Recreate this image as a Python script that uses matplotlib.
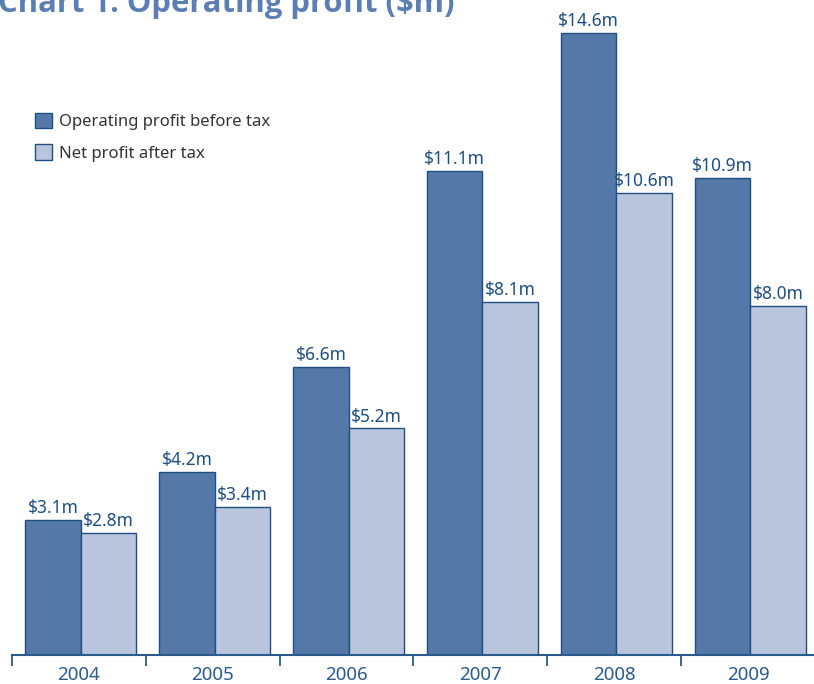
import numpy as np
import matplotlib
matplotlib.use("Agg")
from matplotlib import pyplot as plt

plt.rcParams['font.family'] = ['Noto Sans', 'DejaVu Sans']

years = ["2004", "2005", "2006", "2007", "2008", "2009"]
# labelled values
operating = [3.1, 4.2, 6.6, 11.1, 14.6, 10.9]
net = [2.8, 3.4, 5.2, 8.1, 10.6, 8.0]
# bar heights as drawn in the picture (2008 is drawn a bit short)
operating_bar = [3.1, 4.2, 6.6, 11.1, 14.27, 10.95]
net_bar = [2.8, 3.4, 5.2, 8.1, 10.6, 8.0]

dark = "#5479a8"
light = "#b8c5dd"
edge = "#1f4e80"
txt = "#1f4e80"

fig = plt.figure(figsize=(8.14, 6.84), dpi=100)
ax = fig.add_axes([12/814, 29/684, 803/814, 655/684])

x = np.arange(len(years)) + 0.5
w = 0.415
b1 = ax.bar(x - w/2 + 0.015, operating_bar, w, color=dark, edgecolor=edge, linewidth=1,
            label="Operating profit before tax")
b2 = ax.bar(x + w/2 + 0.015, net_bar, w, color=light, edgecolor=edge, linewidth=1,
            label="Net profit after tax")

for bars, vals in ((b1, operating), (b2, net)):
    ax.bar_label(bars, labels=["$%.1fm" % v for v in vals], padding=2,
                 color=txt, fontsize=12.5)

ax.set_xlim(0, len(years))
ax.set_ylim(0, 655 / 43.6)
ax.set_xticks(np.arange(len(years) + 1))
ax.set_xticklabels([])
ax.set_xticks(x, minor=True)
ax.set_xticklabels(years, minor=True, color="#2b5a8c", fontsize=13.5)
ax.tick_params(axis="x", which="major", direction="out", length=8, width=1.3, color="#2b5a8c")
ax.tick_params(axis="x", which="minor", length=0, pad=8)
ax.set_yticks([])
for s in ["top", "right", "left"]:
    ax.spines[s].set_visible(False)
ax.spines["bottom"].set_color("#2b5a8c")
ax.spines["bottom"].set_linewidth(1.5)

leg = ax.legend(loc="upper left", bbox_to_anchor=(0.01, 0.851), frameon=False,
                handlelength=1.0, handleheight=1.05, handletextpad=0.45,
                labelspacing=0.85, fontsize=12)
for t in leg.get_texts():
    t.set_color("#333333")

fig.text(-2, 684 - 12, "Chart 1: Operating profit ($m)", transform=None,
         fontsize=22.3, fontweight="bold", family=["Open Sans", "DejaVu Sans"],
         color="#5b7fb5", va="baseline", ha="left")

fig.savefig("out.png", dpi=100)
